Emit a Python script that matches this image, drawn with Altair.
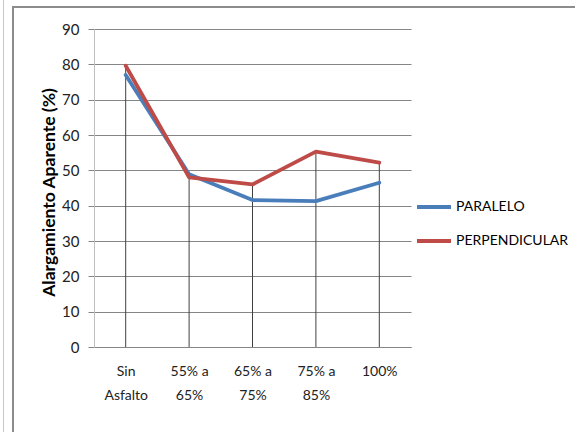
import altair as alt
import pandas as pd

categories = ["Sin Asfalto", "55% a 65%", "65% a 75%", "75% a 85%", "100%"]
paralelo = [77.0, 48.9, 41.6, 41.3, 46.5]
perpendicular = [79.6, 48.0, 46.0, 55.3, 52.2]
series_names = ["PARALELO", "PERPENDICULAR"]
series_colors = ["#4A7EBB", "#BE4B48"]
y_ticks = [0, 10, 20, 30, 40, 50, 60, 70, 80, 90]

rows = []
for name, vals in zip(series_names, [paralelo, perpendicular]):
    for c, v in zip(categories, vals):
        rows.append({"cat": c, "serie": name, "value": v})
df = pd.DataFrame(rows)

FONT = "Lato"

x_scale = alt.Scale(type="point", padding=0.5)
y_scale = alt.Scale(domain=[0, 90], nice=False, zero=True)

x_axis = alt.Axis(
    title=None,
    labelAngle=0,
    ticks=False,
    grid=False,
    domainColor="#868686",
    labelPadding=17,
    labelLineHeight=24,
    labelFont=FONT,
    labelFontSize=14,
    labelColor="#222222",
    labelExpr="datum.label == 'Sin Asfalto' ? ['Sin', 'Asfalto'] : (datum.label == '100%' ? datum.label : split(replace(datum.label, ' a ', ' a|'), '|'))",
)

y_axis = alt.Axis(
    values=y_ticks,
    tickCount=10,
    labelOverlap=False,
    title="Alargamiento Aparente (%)",
    titleFont=FONT,
    titleFontSize=17.5,
    titleFontWeight="bold",
    titleColor="#000000",
    titleAngle=-90,
    titleX=-40,
    titleY=163,
    titleAlign="center",
    titleBaseline="alphabetic",
    gridColor="#868686",
    gridWidth=1,
    tickColor="#868686",
    tickSize=6,
    domainColor="#BFBFBF",
    labelPadding=9,
    labelFont=FONT,
    labelFontSize=15,
    labelColor="#222222",
)

drops = alt.Chart(df).mark_rule(color="#404040", strokeWidth=1).encode(
    x=alt.X("cat:N", sort=categories, scale=x_scale, axis=x_axis),
    y=alt.Y("max(value):Q", scale=y_scale, axis=y_axis),
    y2=alt.datum(0),
)

lines = alt.Chart(df).mark_line(strokeWidth=3.8, strokeCap="round", strokeJoin="round").encode(
    x=alt.X("cat:N", sort=categories, scale=x_scale, axis=x_axis),
    y=alt.Y("value:Q", scale=y_scale, axis=y_axis),
    color=alt.Color(
        "serie:N",
        scale=alt.Scale(domain=series_names, range=series_colors),
        legend=alt.Legend(
            title=None,
            orient="none",
            legendX=321,
            legendY=159,
            symbolType="stroke",
            symbolSize=1156,
            symbolStrokeWidth=4,
            labelFont=FONT,
            labelFontSize=14,
            labelColor="#000000",
            labelOffset=3,
            rowPadding=7,
        ),
    ),
)

frame = alt.Chart(pd.DataFrame({"k": [0]})).mark_rule(color="#8C8C8C", strokeWidth=2).encode(
    x=alt.value(-81), x2=alt.value(-81), y=alt.value(-22), y2=alt.value(410)
)
frame_top = alt.Chart(pd.DataFrame({"k": [0]})).mark_rule(color="#8C8C8C", strokeWidth=2).encode(
    x=alt.value(-82), x2=alt.value(490), y=alt.value(-22)
)
frame_far = alt.Chart(pd.DataFrame({"k": [0]})).mark_rule(color="#C8C8C8", strokeWidth=1).encode(
    x=alt.value(-90.5), x2=alt.value(-90.5), y=alt.value(-40), y2=alt.value(410)
)

chart = (
    alt.layer(frame_far, frame, frame_top, drops, lines)
    .properties(
        width=317,
        height=318,
        padding={"left": 94, "top": 29, "right": 164, "bottom": 85},
        autosize=alt.AutoSizeParams(type="none"),
        background="white",
    )
    .configure_view(stroke=None)
)

chart.save("out.html", embed_options={"renderer": "svg", "actions": False})
